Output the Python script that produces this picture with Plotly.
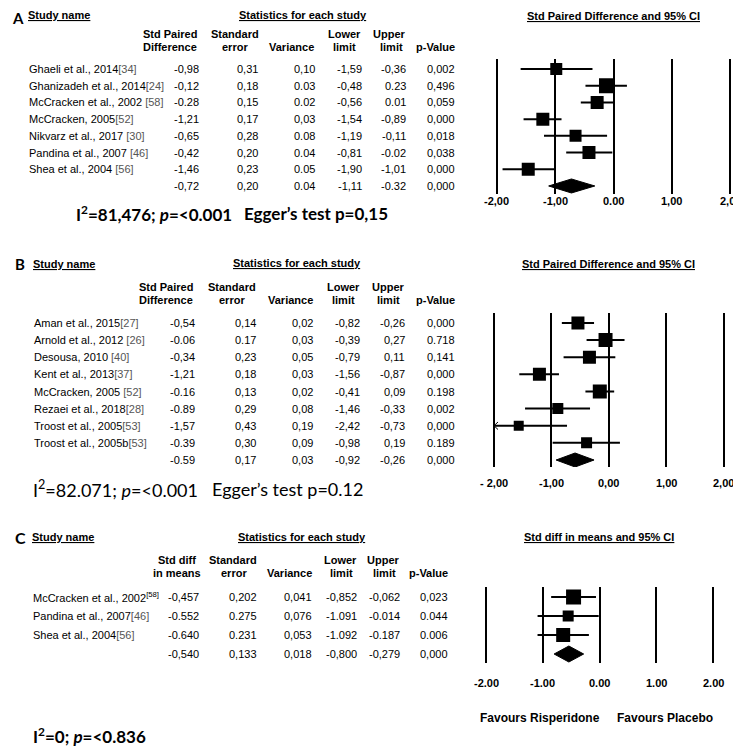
import plotly.graph_objects as go

W, H = 741, 749
OFF = 8  # page body margin of the html page
ARIAL = "Liberation Sans, Arial, sans-serif"
CAL = "Lato, Carlito, Calibri, sans-serif"

# ---------------- Panel A data ----------------
A_names = ["Ghaeli et al., 2014", "Ghanizadeh et al., 2014", "McCracken et al., 2002 ",
           "McCracken, 2005", "Nikvarz et al., 2017 ", "Pandina et al., 2007 ", "Shea et al., 2004 "]
A_refs = ["[34]", "[24]", "[58]", "[52]", "[30]", "[46]", "[56]"]
A_effect = [-0.98, -0.12, -0.28, -1.21, -0.65, -0.42, -1.46]
A_lower = [-1.59, -0.48, -0.56, -1.54, -1.19, -0.81, -1.90]
A_upper = [-0.36, 0.23, 0.01, -0.89, -0.11, -0.02, -1.01]
A_summary = [-0.72, -1.11, -0.32]
A_col_std = ["-0,98", "-0,12", "-0.28", "-1,21", "-0,65", "-0,42", "-1,46", "-0,72"]
A_col_se = ["0,31", "0,18", "0,15", "0,17", "0,28", "0,20", "0,23", "0,20"]
A_col_var = ["0,10", "0.03", "0.02", "0,03", "0.08", "0.04", "0.05", "0.04"]
A_col_low = ["-1,59", "-0,48", "-0,56", "-1,54", "-1,19", "-0,81", "-1,90", "-1,11"]
A_col_up = ["-0,36", "0.23", "0.01", "-0,89", "-0,11", "-0.02", "-1,01", "-0.32"]
A_col_p = ["0,002", "0,496", "0,059", "0,000", "0,018", "0,038", "0,000", "0,000"]
A_ticklabels = ["-2,00", "-1,00", "0.00", "1,00", "2,00"]

# ---------------- Panel B data ----------------
B_names = ["Aman et al., 2015", "Arnold et al., 2012 ", "Desousa, 2010 ", "Kent et al., 2013",
           "McCracken, 2005 ", "Rezaei et al., 2018", "Troost et al., 2005", "Troost et al., 2005b"]
B_refs = ["[27]", "[26]", "[40]", "[37]", "[52]", "[28]", "[53]", "[53]"]
B_effect = [-0.54, -0.06, -0.34, -1.21, -0.16, -0.89, -1.57, -0.39]
B_lower = [-0.82, -0.39, -0.79, -1.56, -0.41, -1.46, -2.42, -0.98]
B_upper = [-0.26, 0.27, 0.11, -0.87, 0.09, -0.33, -0.73, 0.19]
B_summary = [-0.59, -0.92, -0.26]
B_col_std = ["-0,54", "-0.06", "-0,34", "-1,21", "-0.16", "-0.89", "-1,57", "-0.39", "-0.59"]
B_col_se = ["0,14", "0.17", "0,23", "0,18", "0,13", "0,29", "0,43", "0,30", "0,17"]
B_col_var = ["0,02", "0,03", "0,05", "0,03", "0,02", "0,08", "0,19", "0,09", "0,03"]
B_col_low = ["-0,82", "-0,39", "-0,79", "-1,56", "-0,41", "-1,46", "-2,42", "-0,98", "-0,92"]
B_col_up = ["-0,26", "0,27", "0,11", "-0,87", "0,09", "-0,33", "-0,73", "0,19", "-0,26"]
B_col_p = ["0,000", "0.718", "0,141", "0,000", "0.198", "0,002", "0,000", "0.189", "0,000"]
B_ticklabels = ["- 2,00", "-1,00", "0,00", "1,00", "2,00"]

# ---------------- Panel C data ----------------
C_names = ["McCracken et al., 2002", "Pandina et al., 2007", "Shea et al., 2004"]
C_refs = ["[58]", "[46]", "[56]"]
C_effect = [-0.457, -0.552, -0.640]
C_lower = [-0.852, -1.091, -1.092]
C_upper = [-0.062, -0.014, -0.187]
C_summary = [-0.540, -0.800, -0.279]
C_col_std = ["-0,457", "-0.552", "-0.640", "-0,540"]
C_col_se = ["0,202", "0.275", "0.231", "0,133"]
C_col_var = ["0,041", "0,076", "0,053", "0,018"]
C_col_low = ["-0,852", "-1.091", "-1.092", "-0,800"]
C_col_up = ["-0,062", "-0.014", "-0.187", "-0,279"]
C_col_p = ["0,023", "0.044", "0.006", "0,000"]
C_ticklabels = ["-2.00", "-1.00", "0.00", "1.00", "2.00"]

TICKS = [-2, -1, 0, 1, 2]

# ---------------- layout geometry (pixels in the final page) ----------------
A_geo = dict(xm2=496.7, xp2=730.3, row0=69, step=16.71, top=59, bot=194, tick_y=201, dhalf=7,
             boxes=[12, 15, 13, 13, 12, 13, 13])
B_geo = dict(xm2=494, xp2=724, row0=323, step=17.125, top=313, bot=467, tick_y=483, dhalf=7,
             boxes=[13, 14, 13, 13, 14, 11, 10, 11])
C_geo = dict(xm2=486, xp2=713, row0=597, step=19.0, top=587, bot=663, tick_y=683, dhalf=8,
             boxes=[15, 11, 14])

FW, FH = W - OFF, H - OFF


def PX(x):
    return (x - OFF) / FW


def PY(y):
    return 1 - (y - OFF) / FH


annotations = []


def txt(text, x, y, xanchor="left", size=11, family=ARIAL, xref="paper", yref="paper",
        color="black", pad=1):
    annotations.append(dict(
        text=text,
        x=PX(x) if xref == "paper" else x,
        y=PY(y) if yref == "paper" else y,
        xref=xref, yref=yref, xanchor=xanchor, yanchor="middle", borderpad=pad,
        showarrow=False, font=dict(family=family, size=size, color=color)))


fig = go.Figure()
layout_axes = {}


def build_panel(n, geo, names, refs, effect, lower, upper, summary, cols, col_x, ticklabels, sup_refs=False):
    sfx = "" if n == 1 else str(n)
    xa, ya = "x" + sfx, "y" + sfx
    unit = (geo["xp2"] - geo["xm2"]) / 4.0
    xdom = [PX(geo["xm2"] - 0.05 * unit), PX(geo["xp2"] + 0.05 * unit)]
    k_top = (geo["top"] - geo["row0"]) / geo["step"]
    k_bot = (geo["bot"] - geo["row0"]) / geo["step"]
    layout_axes["xaxis" + sfx] = dict(domain=xdom, range=[-2.05, 2.05], anchor=ya,
                                      tickmode="array", tickvals=TICKS, showticklabels=False,
                                      showgrid=True, gridcolor="black", gridwidth=2.4,
                                      zeroline=False, showline=False, ticks="")
    layout_axes["yaxis" + sfx] = dict(domain=[PY(geo["bot"]), PY(geo["top"])], range=[k_bot, k_top],
                                      anchor=xa, showgrid=False, zeroline=False, showticklabels=False,
                                      showline=False, ticks="")
    nst = len(effect)
    rows = list(range(nst))
    # CI lines
    lx, ly = [], []
    arrows_x, arrows_y = [], []
    for k in rows:
        lo = max(lower[k], TICKS[0])
        lx += [lo, upper[k], None]
        ly += [k, k, None]
        if lower[k] < TICKS[0]:
            arrows_x += [TICKS[0] + 0.07, TICKS[0], TICKS[0] + 0.07, None]
            arrows_y += [k - 0.22, k, k + 0.22, None]
    fig.add_trace(go.Scatter(x=lx, y=ly, mode="lines", line=dict(color="black", width=2),
                             xaxis=xa, yaxis=ya, showlegend=False, hoverinfo="skip"))
    if arrows_x:
        fig.add_trace(go.Scatter(x=arrows_x, y=arrows_y, mode="lines", line=dict(color="black", width=1),
                                 xaxis=xa, yaxis=ya, showlegend=False, hoverinfo="skip"))
    fig.add_trace(go.Scatter(x=effect, y=rows, mode="markers",
                             marker=dict(symbol="square", size=geo["boxes"], color="black",
                                         opacity=1, line=dict(width=0)),
                             xaxis=xa, yaxis=ya, showlegend=False))
    # summary diamond
    h = geo["dhalf"] / geo["step"]
    ks = nst
    fig.add_trace(go.Scatter(x=[summary[1], summary[0], summary[2], summary[0], summary[1]],
                             y=[ks, ks - h, ks, ks + h, ks], mode="lines", fill="toself",
                             fillcolor="black", line=dict(color="black", width=1),
                             xaxis=xa, yaxis=ya, showlegend=False))
    # tick labels
    for tv, tl in zip(TICKS, ticklabels):
        txt("<b>" + tl + "</b>", tv, geo["tick_y"], xanchor="center", size=11, xref=xa)
    # table rows
    for k in range(nst):
        if sup_refs and k == 0:
            label = names[k] + "<sup>" + refs[k] + "</sup>"
        else:
            label = names[k] + '<span style="color:#555">' + refs[k] + "</span>"
        txt(label, col_x["name"], k, xanchor="left", size=11, yref=ya)
    for k in range(nst + 1):
        for ci, key in enumerate(["std", "se", "var", "low", "up", "p"]):
            txt(cols[ci][k], col_x[key], k, xanchor="right", size=11, yref=ya)


# ---------------- Panel A ----------------
build_panel(1, A_geo, A_names, A_refs, A_effect, A_lower, A_upper, A_summary,
            [A_col_std, A_col_se, A_col_var, A_col_low, A_col_up, A_col_p],
            dict(name=27, std=201, se=260, var=317, low=364, up=408, p=457), A_ticklabels)
txt("<b>A</b>", 11, 18.5, size=15, family=CAL, pad=0)
txt("<b><u>Study name</u></b>", 26, 15)
txt("<b><u>Statistics for each study</u></b>", 303, 15, xanchor="center")
txt("<b><u>Std Paired Difference and 95% CI</u></b>", 613, 16, xanchor="center")
txt("<b>Std Paired</b>", 199, 34, xanchor="right")
txt("<b>Difference</b>", 199, 47, xanchor="right")
txt("<b>Standard</b>", 235, 34, xanchor="center")
txt("<b>error</b>", 235, 47, xanchor="center")
txt("<b>Variance</b>", 316, 47, xanchor="right")
txt("<b>Lower</b>", 344, 34, xanchor="center")
txt("<b>limit</b>", 344, 47, xanchor="center")
txt("<b>Upper</b>", 389, 34, xanchor="center")
txt("<b>limit</b>", 391, 47, xanchor="center")
txt("<b>p-Value</b>", 457, 47, xanchor="right")
txt("<b>I<sup>2</sup>=81,476; <i>p</i>=&lt;0.001</b>", 74, 213, size=17, family=CAL)
txt("<b>Egger\u2019s test p=0,15</b>", 242, 213, size=17, family=CAL)

# ---------------- Panel B ----------------
build_panel(2, B_geo, B_names, B_refs, B_effect, B_lower, B_upper, B_summary,
            [B_col_std, B_col_se, B_col_var, B_col_low, B_col_up, B_col_p],
            dict(name=32, std=197, se=258, var=315, low=362, up=407, p=457), B_ticklabels)
txt("<b>B</b>", 13, 264, size=15, family=CAL)
txt("<b><u>Study name</u></b>", 31, 264)
txt("<b><u>Statistics for each study</u></b>", 297, 263, xanchor="center")
txt("<b><u>Std Paired Difference and 95% CI</u></b>", 608, 264, xanchor="center")
txt("<b>Std Paired</b>", 195, 287, xanchor="right")
txt("<b>Difference</b>", 195, 300, xanchor="right")
txt("<b>Standard</b>", 232, 287, xanchor="center")
txt("<b>error</b>", 232, 300, xanchor="center")
txt("<b>Variance</b>", 315, 300, xanchor="right")
txt("<b>Lower</b>", 343, 287, xanchor="center")
txt("<b>limit</b>", 343, 300, xanchor="center")
txt("<b>Upper</b>", 388, 287, xanchor="center")
txt("<b>limit</b>", 388, 300, xanchor="center")
txt("<b>p-Value</b>", 457, 300, xanchor="right")
txt("I<sup>2</sup>=82.071; <i>p</i>=&lt;0.001", 31, 489, size=18, family=CAL)
txt("Egger\u2019s test p=0.12", 210, 489, size=18, family=CAL)

# ---------------- Panel C ----------------
build_panel(3, C_geo, C_names, C_refs, C_effect, C_lower, C_upper, C_summary,
            [C_col_std, C_col_se, C_col_var, C_col_low, C_col_up, C_col_p],
            dict(name=31, std=201, se=259, var=314, low=359, up=402, p=450), C_ticklabels, sup_refs=True)
txt("<b>C</b>", 13, 537, size=16, family=CAL)
txt("<b><u>Study name</u></b>", 30, 537)
txt("<b><u>Statistics for each study</u></b>", 302, 537, xanchor="center")
txt("<b><u>Std diff in means and 95% CI</u></b>", 599, 537, xanchor="center")
txt("<b>Std diff</b>", 177, 560, xanchor="center")
txt("<b>in means</b>", 177, 573, xanchor="center")
txt("<b>Standard</b>", 233, 560, xanchor="center")
txt("<b>error</b>", 234, 573, xanchor="center")
txt("<b>Variance</b>", 314, 573, xanchor="right")
txt("<b>Lower</b>", 340, 560, xanchor="center")
txt("<b>limit</b>", 341, 573, xanchor="center")
txt("<b>Upper</b>", 383, 560, xanchor="center")
txt("<b>limit</b>", 384, 573, xanchor="center")
txt("<b>p-Value</b>", 450, 573, xanchor="right")
txt("<b>Favours Risperidone</b>", 540, 718, xanchor="center", size=12)
txt("<b>Favours Placebo</b>", 665, 718, xanchor="center", size=12)
txt("<b>I<sup>2</sup>=0; <i>p</i>=&lt;0.836</b>", 31, 735, size=17, family=CAL)

fig.update_layout(width=FW, height=FH, autosize=False,
                  margin=dict(l=0, r=0, t=0, b=0, pad=0),
                  paper_bgcolor="white", plot_bgcolor="white",
                  annotations=annotations, showlegend=False, **layout_axes)

fig.write_html("out.html")
